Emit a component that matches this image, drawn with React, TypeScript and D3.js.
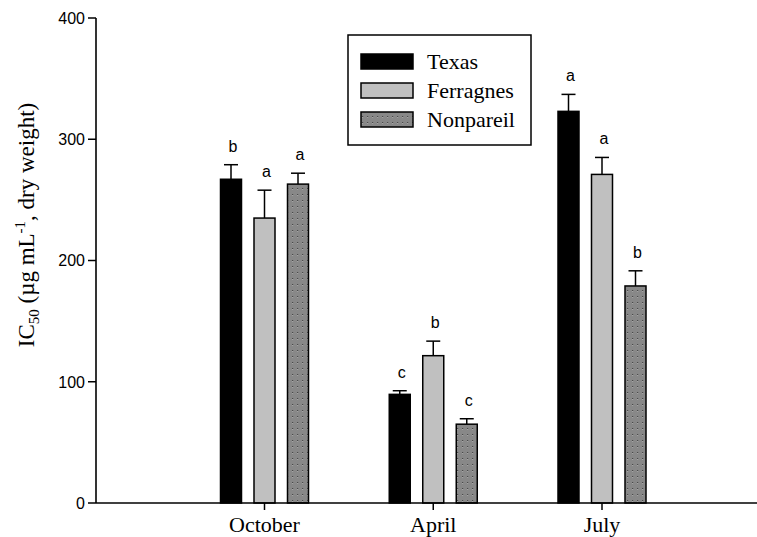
import * as d3 from 'd3';

const months = ['October', 'April', 'July'];
const series = ['Texas', 'Ferragnes', 'Nonpareil'];
const values = [
  [267, 89.6, 323],
  [235, 121.5, 271],
  [263, 65, 179],
];
const errors = [
  [12, 3, 14],
  [23, 12, 14],
  [9, 4.5, 12.5],
];
const letters = [
  ['b', 'c', 'a'],
  ['a', 'b', 'a'],
  ['a', 'c', 'b'],
];
const yTicks = [0, 100, 200, 300, 400];

const fills = ['#000000', '#c0c0c0', 'url(#dots)'];

export default function App() {
  const width = 757;
  const height = 537;
  const x0 = 96;
  const y = d3.scaleLinear().domain([0, 400]).range([503, 18]);
  const x = d3.scalePoint<string>().domain(months).range([264.5, 602]);
  const xs = d3.scaleBand<string>().domain(series).range([-50.25, 50.25]);
  const barW = 21;
  const capW = 14;
  const times = '"Liberation Serif", "Times New Roman", serif';
  const arial = '"Liberation Sans", Arial, sans-serif';

  return (
    <svg
      width={width}
      height={height}
      style={{ position: 'absolute', left: 0, top: 0, background: '#fff' }}
    >
      <defs>
        <pattern id="dots" width="5" height="6" patternUnits="userSpaceOnUse">
          <rect width="5" height="6" fill="#888888" />
          <rect x="2" y="2" width="1.2" height="1.2" fill="#4a4a4a" />
          <rect x="2" y="3.2" width="1.2" height="0.8" fill="#b0b0b0" />
        </pattern>
      </defs>

      {/* bars */}
      {series.map((s, si) =>
        months.map((m, mi) => {
          const cx = (x(m) ?? 0) + (xs(s) ?? 0) + xs.bandwidth() / 2;
          const v = values[si][mi];
          const top = y(v);
          const errTop = y(v + errors[si][mi]);
          return (
            <g key={s + m}>
              <line x1={cx} x2={cx} y1={top} y2={errTop} stroke="#000" strokeWidth={1.5} />
              <line x1={cx - capW / 2} x2={cx + capW / 2} y1={errTop} y2={errTop} stroke="#000" strokeWidth={1.5} />
              <rect
                x={cx - barW / 2}
                y={top}
                width={barW}
                height={y(0) - top}
                fill={fills[si]}
                stroke="#000"
                strokeWidth={1.5}
              />
              <text
                x={cx + 2}
                y={errTop - 13}
                textAnchor="middle"
                fontFamily={arial}
                fontSize={16}
                fill="#000"
              >
                {letters[si][mi]}
              </text>
            </g>
          );
        })
      )}

      {/* axes */}
      <line x1={x0} x2={width} y1={y(0)} y2={y(0)} stroke="#000" strokeWidth={1.6} />
      <line x1={x0} x2={x0} y1={y(0)} y2={y(400)} stroke="#000" strokeWidth={1.6} />
      {yTicks.map((t) => (
        <g key={t}>
          <line x1={x0 - 8} x2={x0} y1={y(t)} y2={y(t)} stroke="#000" strokeWidth={1.5} />
          <text
            x={x0 - 11}
            y={y(t)}
            dy="0.36em"
            textAnchor="end"
            fontFamily={arial}
            fontSize={16}
            fill="#000"
          >
            {t}
          </text>
        </g>
      ))}
      {months.map((m) => (
        <g key={m}>
          <line x1={x(m)} x2={x(m)} y1={y(0)} y2={y(0) + 7} stroke="#000" strokeWidth={1.5} />
          <text
            x={x(m)}
            y={532}
            textAnchor="middle"
            fontFamily={times}
            fontSize={22}
            fill="#000"
          >
            {m}
          </text>
        </g>
      ))}

      {/* y label */}
      <text
        transform="translate(34,225) rotate(-90)"
        textAnchor="middle"
        fontFamily={times}
        fontSize={23}
        fill="#000"
      >
        IC
        <tspan fontSize={15} dy={5}>50</tspan>
        <tspan dy={-5}> (µg mL</tspan>
        <tspan fontSize={15} dy={-9}>-1</tspan>
        <tspan dy={9}>, dry weight)</tspan>
      </text>

      {/* legend */}
      <rect x={348} y={35} width={183} height={110} fill="#fff" stroke="#000" strokeWidth={1.5} />
      {series.map((s, si) => {
        const ly = 54 + si * 29;
        return (
          <g key={s}>
            <rect x={361} y={ly} width={52} height={15} fill={fills[si]} stroke="#000" strokeWidth={1.5} />
            <text x={427} y={ly + 15} fontFamily={times} fontSize={22} fill="#000">
              {s}
            </text>
          </g>
        );
      })}
    </svg>
  );
}
